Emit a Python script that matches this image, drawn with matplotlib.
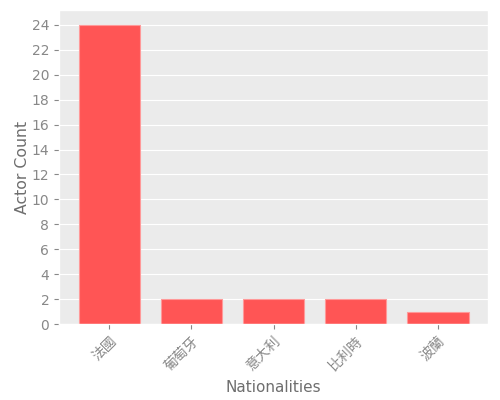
import matplotlib.pyplot as plt

plt.style.use('ggplot')
plt.rcParams['font.family'] = ['Noto Sans CJK TC', 'DejaVu Sans']

nationalities = ['法國', '葡萄牙', '意大利', '比利時', '波蘭']
actor_counts = [24, 2, 2, 2, 1]

fig, ax = plt.subplots(figsize=(5, 4), dpi=100)
ax.set_facecolor('#ebebeb')
ax.bar(nationalities, actor_counts, width=0.75, color='#ff5555', edgecolor='#ff9999', linewidth=0.8)

ax.set_xlabel('Nationalities', fontsize=11, color='#6e6e6e',
              family=['DejaVu Sans'], labelpad=5)
ax.set_ylabel('Actor Count', fontsize=11.3, color='#6e6e6e',
              family=['DejaVu Sans'], labelpad=1)
ax.set_yticks(range(0, 25, 2))
ax.tick_params(axis='both', labelsize=10, colors='#888888')
for lab in ax.get_yticklabels():
    lab.set_family(['DejaVu Sans'])
plt.setp(ax.get_xticklabels(), rotation=45, ha='right', rotation_mode='anchor')
ax.grid(axis='x', visible=False)

plt.subplots_adjust(left=0.118, right=0.976, top=0.975, bottom=0.19)
plt.savefig('out.png')
